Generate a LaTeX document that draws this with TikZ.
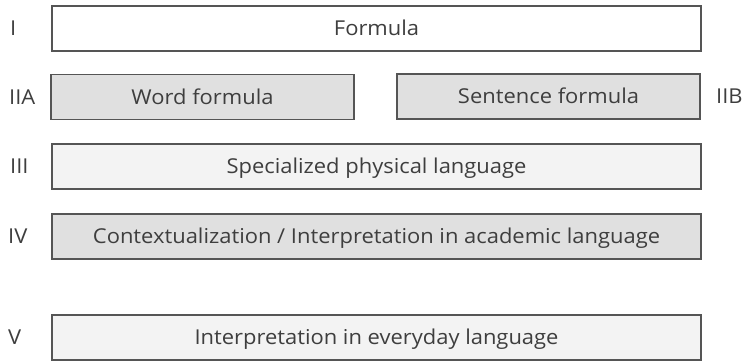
\documentclass[tikz,border=0pt]{standalone}
\usepackage{fontspec}
\setmainfont{Open Sans}[FakeStretch=1.07]
\definecolor{txt}{HTML}{3E3E3E}
\definecolor{edge}{HTML}{555555}
\definecolor{midgray}{HTML}{E0E0E0}
\definecolor{palegray}{HTML}{F3F3F3}
\begin{document}
\begin{tikzpicture}[x=1pt,y=-1pt,
  label font/.style={font=\fontsize{20.5}{24}\selectfont},
  level/.style={draw=edge, line width=1.5pt, text=txt, rectangle, inner sep=0pt,
    minimum height=45pt, text height=14.6pt, text depth=0pt, label font},
  wide/.style={level, minimum width=649pt},
  half/.style={level, minimum width=303pt},
  tag/.style={text=txt, label font, inner sep=0pt, text height=14.6pt, text depth=0pt}]
\useasboundingbox (0,0) rectangle (745,361);
% stacked levels
\node[wide, fill=white] (formula) at (376.5,28.5) {Formula};
\node[half, fill=midgray] (word) at (202.5,97) {Word formula};
\node[half, fill=midgray] (sentence) at (548.5,96.5) {Sentence formula};
\node[wide, fill=palegray] (spec) at (376.5,166.5) {Specialized physical language};
\node[wide, fill=midgray] (context) at (376.5,236.5) {Contextualization / Interpretation in academic language};
\node[wide, fill=palegray] (everyday) at (376.5,337.5) {Interpretation in everyday language};
% level numerals
\node[tag, anchor=west] (l1) at (10,28.5) {I};
\node[tag, anchor=west] (l2a) at (9,97) {IIA};
\node[tag, anchor=west] (l2b) at (716,96.5) {IIB};
\node[tag, anchor=west] (l3) at (10,166.5) {III};
\node[tag, anchor=west] (l4) at (8,236.5) {IV};
\node[tag, anchor=west] (l5) at (8,337.5) {V};
\end{tikzpicture}
\end{document}
